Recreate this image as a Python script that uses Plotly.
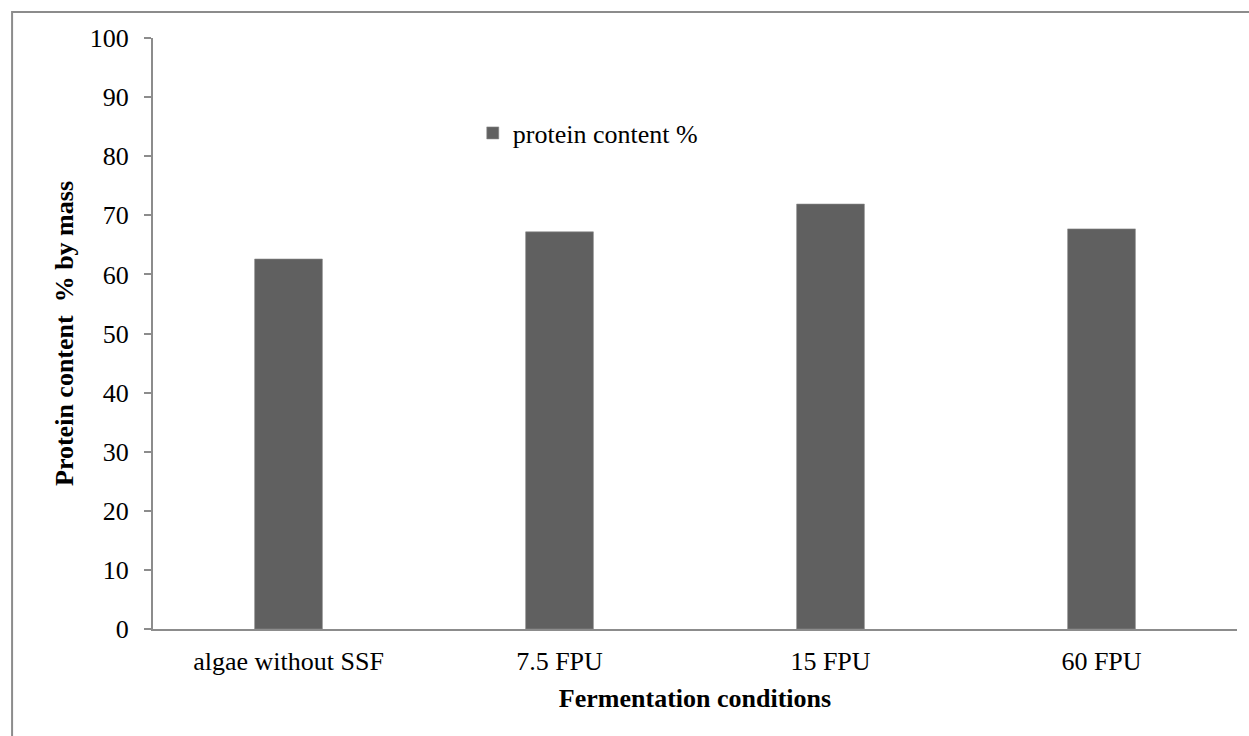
import plotly.graph_objects as go

# Protein content after solid-state fermentation at different enzyme loadings
conditions = ["algae without SSF", "7.5 FPU", "15 FPU", "60 FPU"]
protein_pct = [62.6, 67.2, 71.9, 67.7]
y_ticks = [0, 10, 20, 30, 40, 50, 60, 70, 80, 90, 100]

FONT = "Liberation Serif, Times New Roman, serif"
AXIS_GREY = "#8c8c8c"

fig = go.Figure(
    go.Bar(
        x=conditions,
        y=protein_pct,
        name="protein content %",
        marker=dict(color="#606060", line=dict(color="#8a8a8a", width=0.6)),
        showlegend=True,
    )
)

fig.update_layout(
    width=1249,
    height=736,
    margin=dict(l=153, r=12, t=38, b=107),
    paper_bgcolor="white",
    plot_bgcolor="white",
    font=dict(family=FONT, size=26, color="black"),
    bargap=0.75,
    legend=dict(
        x=0.295,
        y=0.879,
        xanchor="left",
        yanchor="top",
        bgcolor="rgba(0,0,0,0)",
        font=dict(family=FONT, size=26, color="black"),
    ),
    xaxis=dict(
        type="category",
        showline=True,
        linecolor=AXIS_GREY,
        linewidth=2,
        showgrid=False,
        ticks="",
        ticklabelstandoff=8,
        tickfont=dict(family=FONT, size=26),
        title=dict(
            text="<b>Fermentation conditions</b>",
            font=dict(family=FONT, size=26),
            standoff=14,
        ),
    ),
    yaxis=dict(
        range=[0, 100],
        tickvals=y_ticks,
        showline=True,
        linecolor=AXIS_GREY,
        linewidth=2,
        showgrid=False,
        zeroline=False,
        ticks="outside",
        ticklen=7,
        tickwidth=2,
        tickcolor=AXIS_GREY,
        ticklabelstandoff=10,
        tickfont=dict(family=FONT, size=26),
        title=dict(
            text="<b>Protein content  % by mass</b>",
            font=dict(family=FONT, size=26),
            standoff=9,
        ),
    ),
    shapes=[
        # outer chart frame
        dict(
            type="rect",
            xref="paper",
            yref="paper",
            x0=-0.130,
            x1=1.03,
            y0=-0.22,
            y1=1.044,
            line=dict(color=AXIS_GREY, width=2),
            fillcolor="rgba(0,0,0,0)",
            layer="below",
        )
    ],
)

fig.write_html("out.html")
